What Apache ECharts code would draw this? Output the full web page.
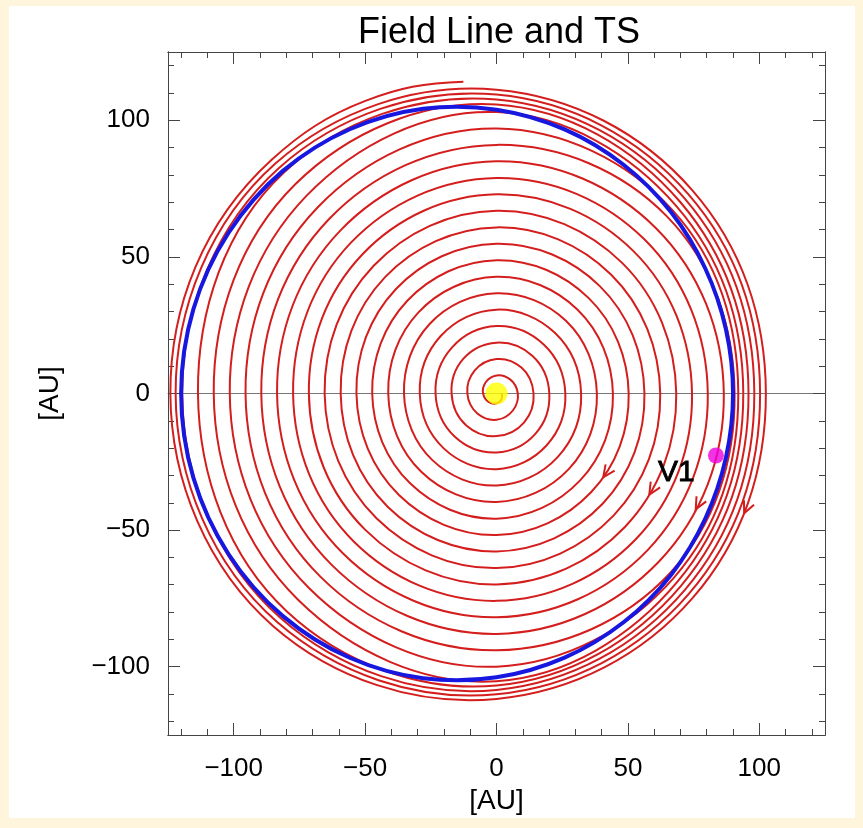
<!DOCTYPE html>
<html>
<head>
<meta charset="utf-8">
<script src="https://cdn.jsdelivr.net/npm/echarts@6/dist/echarts.min.js"></script>
<style>
  html, body { margin: 0; padding: 0; background: #fff4dc; }
  #panel { position: absolute; left: 9px; top: 6px; width: 846px; height: 812px; background: #ffffff; }
  #chart { position: absolute; left: 0; top: 0; width: 863px; height: 828px; }
</style>
</head>
<body>
<div id="panel"></div>
<div id="chart"></div>
<script>
// Field line radii [AU] on eight rays, one value per turn (clockwise order: E, SE, S, SW, W, NW, N, NE)
const rE  = [2.0, 8.1, 14.1, 20.1, 26.2, 32.2, 38.2, 44.3, 50.3, 56.3, 62.3, 68.4, 74.4, 80.4, 86.5, 90.6, 92.0, 93.9, 95.9, 98.1, 100.3, 102.5];
const rSE = [2.8, 8.8, 14.9, 20.9, 26.9, 32.9, 39.0, 45.0, 51.0, 57.1, 63.1, 69.1, 75.2, 81.2, 87.2, 93.2, 95.4, 97.4, 99.4, 101.5, 103.6, 105.7];
const rS  = [3.6, 9.6, 15.6, 21.6, 27.7, 33.7, 39.7, 45.8, 51.8, 57.8, 63.9, 69.9, 75.9, 81.9, 88.0, 94.0, 100.0, 105.3, 106.9, 108.5, 110.1, 111.8];
const rSW = [4.3, 10.3, 16.4, 22.4, 28.4, 34.5, 40.5, 46.5, 52.5, 58.6, 64.6, 70.6, 76.7, 82.7, 88.7, 94.8, 100.8, 106.8, 112.8, 116.2, 118.2, 120.3];
const rW  = [5.1, 11.1, 17.1, 23.2, 29.2, 35.2, 41.2, 47.3, 53.3, 59.3, 65.4, 71.4, 77.4, 83.5, 89.5, 95.5, 101.5, 107.6, 113.6, 119.6, 122.1, 124.1];
const rNW = [5.8, 11.8, 17.9, 23.9, 29.9, 36.0, 42.0, 48.0, 54.1, 60.1, 66.1, 72.1, 78.2, 84.2, 90.2, 96.3, 102.3, 108.3, 114.4, 116.9, 119.0, 121.0];
const rN  = [6.6, 12.6, 18.6, 24.7, 30.7, 36.7, 42.7, 48.8, 54.8, 60.8, 66.9, 72.9, 78.9, 85.0, 91.0, 97.0, 103.0, 105.8, 107.6, 109.4, 111.2];
const rNE = [7.3, 13.4, 19.4, 25.4, 31.4, 37.5, 43.5, 49.5, 55.6, 61.6, 67.6, 73.7, 79.7, 85.7, 91.7, 94.8, 96.9, 99.0, 101.1, 103.2, 105.3];
// Last stretch of the field line past the NW ray [AU]
const fieldLineTail = [[-49.9, 107.1], [-12.6, 114.1]];

// Termination shock radius [AU] every 15 degrees (counter-clockwise from +x)
const tsAngle  = [0, 15, 30, 45, 60, 75, 90, 105, 120, 135, 150, 165, 180, 195, 210, 225, 240, 255, 270, 285, 300, 315, 330, 345];
const tsRadius = [90.0, 90.4, 91.7, 93.9, 96.7, 100.1, 103.9, 107.9, 111.7, 115.1, 117.7, 119.4, 120.0, 119.4, 117.7, 115.1, 111.7, 107.9, 103.9, 100.1, 96.7, 93.9, 91.7, 90.4];

// Direction arrows sitting on the field line [AU]
const arrowPoints = [[41.7, -29.2], [59.1, -35.5], [76.7, -40.8], [95.0, -42.2]];

// Sun and Voyager 1 [AU]
const sunPos = [0, 0];
const v1Pos = [83.5, -22.7];
const v1Label = 'V1';
const v1LabelPos = [68.4, -29.0];

// Axis ticks
const majorTicks = [-100, -50, 0, 50, 100];
const minorTicks = [-120, -110, -90, -80, -70, -60, -40, -30, -20, -10, 10, 20, 30, 40, 60, 70, 80, 90, 110, 120];

const rays = [rE, rSE, rS, rSW, rW, rNW, rN, rNE];
const fieldLine = [];
for (let i = 0; i < rE.length; i++) {
  for (let j = 0; j < 8; j++) {
    const r = rays[j][i];
    if (r === undefined) continue;
    const a = -j * 45 * Math.PI / 180;
    fieldLine.push([r * Math.cos(a), r * Math.sin(a)]);
  }
}
fieldLineTail.forEach(p => fieldLine.push(p));

const shock = tsAngle.map((deg, k) => {
  const a = deg * Math.PI / 180;
  return [tsRadius[k] * Math.cos(a), tsRadius[k] * Math.sin(a)];
});

// Cubic Bezier path through pixel points; tangent at each point from the
// parabola through its neighbours (chord-length parameterisation)
function bezierPath(p, alpha, closed) {
  const n = p.length;
  const seg = closed ? n : n - 1;
  const D = [], U = [];
  for (let i = 0; i < seg; i++) {
    const a = p[i], b = p[(i + 1) % n];
    const dx = b[0] - a[0], dy = b[1] - a[1];
    const L = Math.hypot(dx, dy) || 1e-9;
    D.push(L); U.push([dx / L, dy / L]);
  }
  const M = new Array(n);
  for (let i = 0; i < n; i++) {
    if (!closed && (i === 0 || i === n - 1)) continue;
    const sp = closed ? (i - 1 + seg) % seg : i - 1;
    const sn = i % seg;
    const d0 = D[sp], d1 = D[sn], u0 = U[sp], u1 = U[sn];
    M[i] = [(d1 * u0[0] + d0 * u1[0]) / (d0 + d1), (d1 * u0[1] + d0 * u1[1]) / (d0 + d1)];
  }
  if (!closed) {
    M[0] = [2 * U[0][0] - M[1][0], 2 * U[0][1] - M[1][1]];
    M[n - 1] = [2 * U[seg - 1][0] - M[n - 2][0], 2 * U[seg - 1][1] - M[n - 2][1]];
  }
  const f = v => v.toFixed(2);
  let d = 'M' + f(p[0][0]) + ',' + f(p[0][1]);
  for (let i = 0; i < seg; i++) {
    const j = (i + 1) % n;
    const a = p[i], b = p[j], L = D[i] * alpha;
    d += 'C' + f(a[0] + M[i][0] * L) + ',' + f(a[1] + M[i][1] * L) + ' ' +
         f(b[0] - M[j][0] * L) + ',' + f(b[1] - M[j][1] * L) + ' ' + f(b[0]) + ',' + f(b[1]);
  }
  if (closed) d += 'Z';
  return d;
}

function curveSeries(points, alpha, closed, color, width, z) {
  return {
    type: 'custom', coordinateSystem: 'cartesian2d', z: z, silent: true,
    data: [points[0]],
    renderItem: function (params, api) {
      const px = points.map(q => api.coord(q));
      return {
        type: 'path',
        shape: { pathData: bezierPath(px, alpha, closed) },
        style: { fill: null, stroke: color, lineWidth: width }
      };
    }
  };
}

const FONT = 'Liberation Sans';
const AXIS_COLOR = '#444';
const RED = '#d41e1e';
const BLUE = '#1717e0';

function axisDef(kind, pos, ticks, len, labels) {
  return {
    type: 'value', position: pos, min: -125, max: 125,
    axisLine: { show: true, onZero: false, lineStyle: { color: AXIS_COLOR, width: 1 } },
    axisTick: { show: true, inside: true, length: len, customValues: ticks, lineStyle: { color: AXIS_COLOR, width: 1 } },
    axisLabel: labels ? {
      show: true, customValues: majorTicks, margin: kind === 'x' ? 21 : 18,
      color: '#000', fontFamily: FONT, fontSize: 26,
      formatter: v => (v < 0 ? '\u2212' + Math.abs(v) : String(v))
    } : { show: false },
    splitLine: { show: false },
    name: labels ? '[AU]' : '',
    nameLocation: 'middle',
    nameGap: kind === 'x' ? 41 : 104,
    nameTextStyle: { color: '#000', fontFamily: FONT, fontSize: 28 }
  };
}

const xAxes = [
  axisDef('x', 'bottom', majorTicks, 12, true),
  axisDef('x', 'top', majorTicks, 12, false),
  axisDef('x', 'bottom', minorTicks, 6, false),
  axisDef('x', 'top', minorTicks, 6, false),
  {
    type: 'value', min: -125, max: 125,
    axisLine: { show: true, onZero: true, lineStyle: { color: '#777', width: 1 } },
    axisTick: { show: false }, axisLabel: { show: false }, splitLine: { show: false }
  }
];
const yAxes = [
  axisDef('y', 'left', majorTicks, 12, true),
  axisDef('y', 'right', majorTicks, 12, false),
  axisDef('y', 'left', minorTicks, 6, false),
  axisDef('y', 'right', minorTicks, 6, false)
];
yAxes[0].nameRotate = 90;

const chart = echarts.init(document.getElementById('chart'), null, { renderer: 'canvas' });
chart.setOption({
  animation: false,
  backgroundColor: 'transparent',
  title: {
    text: 'Field Line and TS', left: 494, top: 10, textAlign: 'center',
    textStyle: { fontFamily: FONT, fontWeight: 'normal', fontSize: 36, color: '#000' }
  },
  grid: { left: 168, top: 52, right: 38, bottom: 93, containLabel: false },
  xAxis: xAxes,
  yAxis: yAxes,
  series: [
    curveSeries(fieldLine, 0.375, false, RED, 2, 2),
    curveSeries(shock, 0.3376, true, BLUE, 4, 3),
    {
      type: 'custom', coordinateSystem: 'cartesian2d', z: 4, silent: true,
      data: arrowPoints,
      renderItem: function (params, api) {
        const x = api.value(0), y = api.value(1);
        const c = api.coord([x, y]);
        const phi = Math.atan2(y, x);
        // clockwise tangent in pixel space
        const dx = Math.sin(phi), dy = Math.cos(phi);
        const nx = -dy, ny = dx;
        const tip = [c[0] + dx * 5, c[1] + dy * 5];
        const back = 12, half = 5.5;
        return {
          type: 'polyline',
          shape: { points: [
            [tip[0] - dx * back + nx * half, tip[1] - dy * back + ny * half],
            tip,
            [tip[0] - dx * back - nx * half, tip[1] - dy * back - ny * half]
          ] },
          style: { fill: null, stroke: RED, lineWidth: 2 }
        };
      }
    },
    {
      type: 'scatter', data: [sunPos], z: 5, symbol: 'circle', symbolSize: 22, silent: true,
      itemStyle: { color: '#ffff00' }
    },
    {
      type: 'scatter', data: [v1Pos], z: 5, symbol: 'circle', symbolSize: 16, silent: true,
      itemStyle: { color: '#ee00dd' }
    },
    {
      type: 'custom', coordinateSystem: 'cartesian2d', z: 6, silent: true,
      data: [v1LabelPos],
      renderItem: function (params, api) {
        const c = api.coord([api.value(0), api.value(1)]);
        return {
          type: 'text', x: c[0], y: c[1],
          style: {
            text: v1Label, fill: '#000', stroke: '#000', lineWidth: 0.8,
            font: '30px "Liberation Sans"', align: 'center', verticalAlign: 'middle'
          }
        };
      }
    }
  ]
});
</script>
</body>
</html>
